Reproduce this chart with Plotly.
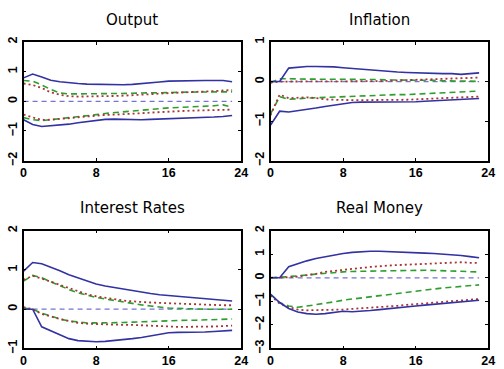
import plotly.graph_objects as go

periods = list(range(24))
panel_titles = ["Output", "Inflation", "Interest Rates", "Real Money"]
y_ranges = [[-2, 2], [-2, 1], [-1, 2], [-3, 2]]
x_ticks = [0, 8, 16, 24]

output_blue_up = [0.79,0.92,0.82,0.71,0.66,0.62,0.6,0.58,0.57,0.56,0.55,0.56,0.57,0.59,0.62,0.65,0.68,0.69,0.70,0.70,0.70,0.70,0.70,0.66]
output_green_up = [0.70,0.68,0.55,0.40,0.28,0.25,0.25,0.25,0.25,0.25,0.25,0.26,0.27,0.28,0.28,0.29,0.30,0.30,0.31,0.31,0.32,0.33,0.33,0.32]
output_red_up = [0.60,0.55,0.45,0.30,0.22,0.17,0.16,0.16,0.17,0.17,0.18,0.19,0.20,0.22,0.24,0.26,0.28,0.29,0.31,0.32,0.33,0.35,0.37,0.38]
output_green_lo = [-0.55,-0.62,-0.65,-0.62,-0.58,-0.55,-0.52,-0.48,-0.45,-0.41,-0.38,-0.35,-0.32,-0.30,-0.27,-0.24,-0.22,-0.21,-0.20,-0.19,-0.18,-0.15,-0.12,-0.20]
output_red_lo = [-0.45,-0.55,-0.63,-0.62,-0.60,-0.57,-0.54,-0.51,-0.48,-0.46,-0.45,-0.44,-0.42,-0.40,-0.38,-0.36,-0.35,-0.34,-0.32,-0.31,-0.30,-0.29,-0.28,-0.28]
output_blue_lo = [-0.62,-0.78,-0.85,-0.83,-0.80,-0.77,-0.72,-0.68,-0.64,-0.61,-0.60,-0.61,-0.62,-0.62,-0.61,-0.60,-0.60,-0.58,-0.57,-0.56,-0.55,-0.53,-0.51,-0.48]

infl_blue_up = [0.0,0.0,0.34,0.36,0.38,0.38,0.38,0.37,0.35,0.33,0.31,0.29,0.27,0.26,0.24,0.23,0.22,0.21,0.21,0.20,0.20,0.18,0.20,0.22]
infl_green_up = [-0.03,0.07,0.07,0.06,0.06,0.06,0.06,0.05,0.05,0.05,0.05,0.05,0.05,0.04,0.04,0.04,0.03,0.03,0.03,0.02,0.02,0.01,0.01,0.0]
infl_red_up = [-0.03,0.0,0.0,0.0,0.0,0.0,0.0,0.0,0.0,0.01,0.01,0.01,0.01,0.02,0.03,0.04,0.04,0.05,0.06,0.07,0.08,0.09,0.10,0.10]
infl_green_lo = [-0.82,-0.38,-0.45,-0.43,-0.42,-0.41,-0.40,-0.39,-0.38,-0.37,-0.36,-0.35,-0.35,-0.34,-0.33,-0.33,-0.32,-0.31,-0.30,-0.29,-0.28,-0.27,-0.26,-0.24]
infl_red_lo = [-0.85,-0.33,-0.42,-0.41,-0.40,-0.42,-0.45,-0.46,-0.47,-0.47,-0.47,-0.47,-0.47,-0.47,-0.46,-0.46,-0.45,-0.44,-0.43,-0.41,-0.40,-0.39,-0.38,-0.38]
infl_blue_lo = [-1.10,-0.75,-0.77,-0.74,-0.70,-0.67,-0.63,-0.60,-0.57,-0.53,-0.52,-0.52,-0.52,-0.52,-0.52,-0.52,-0.51,-0.50,-0.49,-0.48,-0.47,-0.46,-0.44,-0.43]

rate_blue_up = [0.97,1.19,1.16,1.08,0.98,0.88,0.80,0.72,0.64,0.59,0.55,0.51,0.48,0.44,0.40,0.37,0.35,0.32,0.30,0.28,0.27,0.25,0.23,0.21]
rate_green_up = [0.72,0.86,0.80,0.70,0.58,0.50,0.42,0.36,0.30,0.26,0.22,0.18,0.15,0.11,0.08,0.05,0.03,0.02,0.01,0.0,0.0,0.0,0.0,0.0]
rate_red_up = [0.75,0.85,0.78,0.70,0.60,0.52,0.45,0.38,0.33,0.29,0.25,0.22,0.20,0.18,0.17,0.16,0.15,0.14,0.13,0.13,0.12,0.11,0.10,0.10]
rate_green_lo = [0.03,0.0,-0.10,-0.18,-0.25,-0.30,-0.33,-0.35,-0.35,-0.35,-0.34,-0.34,-0.33,-0.32,-0.31,-0.31,-0.30,-0.29,-0.28,-0.28,-0.27,-0.26,-0.25,-0.25]
rate_red_lo = [0.05,0.0,-0.12,-0.19,-0.25,-0.30,-0.35,-0.37,-0.38,-0.39,-0.39,-0.40,-0.40,-0.41,-0.43,-0.44,-0.45,-0.45,-0.45,-0.45,-0.45,-0.44,-0.43,-0.42]
rate_blue_lo = [0.0,0.0,-0.45,-0.55,-0.65,-0.75,-0.80,-0.82,-0.83,-0.82,-0.80,-0.78,-0.75,-0.72,-0.68,-0.64,-0.60,-0.59,-0.59,-0.58,-0.58,-0.57,-0.55,-0.54]

money_blue_up = [0.0,0.0,0.47,0.60,0.72,0.82,0.90,0.97,1.03,1.08,1.12,1.13,1.13,1.12,1.10,1.09,1.07,1.05,1.03,1.01,0.98,0.95,0.90,0.85]
money_green_up = [0.0,0.02,0.05,0.08,0.12,0.16,0.20,0.23,0.25,0.27,0.28,0.29,0.30,0.31,0.31,0.32,0.32,0.32,0.31,0.31,0.30,0.28,0.26,0.25]
money_red_up = [0.0,0.0,0.02,0.05,0.10,0.17,0.25,0.30,0.35,0.38,0.42,0.46,0.50,0.52,0.54,0.56,0.58,0.60,0.62,0.63,0.65,0.66,0.64,0.63]
money_green_lo = [-0.70,-1.05,-1.20,-1.25,-1.20,-1.15,-1.10,-1.02,-0.95,-0.90,-0.85,-0.80,-0.75,-0.70,-0.65,-0.60,-0.55,-0.51,-0.47,-0.43,-0.40,-0.37,-0.33,-0.30]
money_red_lo = [-0.75,-1.10,-1.25,-1.35,-1.38,-1.38,-1.38,-1.37,-1.35,-1.32,-1.30,-1.28,-1.25,-1.22,-1.19,-1.15,-1.12,-1.09,-1.06,-1.03,-1.00,-0.97,-0.93,-0.90]
money_blue_lo = [-0.70,-1.05,-1.30,-1.45,-1.52,-1.55,-1.52,-1.47,-1.42,-1.44,-1.43,-1.39,-1.35,-1.32,-1.28,-1.24,-1.20,-1.16,-1.12,-1.08,-1.05,-1.01,-0.98,-0.95]

zero_line = [0.0] * 24

panels = [
    dict(blue=[output_blue_up, output_blue_lo], green=[output_green_up, output_green_lo], red=[output_red_up, output_red_lo]),
    dict(blue=[infl_blue_up, infl_blue_lo], green=[infl_green_up, infl_green_lo], red=[infl_red_up, infl_red_lo]),
    dict(blue=[rate_blue_up, rate_blue_lo], green=[rate_green_up, rate_green_lo], red=[rate_red_up, rate_red_lo]),
    dict(blue=[money_blue_up, money_blue_lo], green=[money_green_up, money_green_lo], red=[money_red_up, money_red_lo]),
]

W, H = 504, 369
x_doms = [[21 / W, 243 / W], [273 / W, 495 / W]]
y_doms = [[1 - 160 / H, 1 - 38 / H], [1 - 353 / H, 1 - 232 / H]]

BLUE = "#3232a2"
GREEN = "#2e9e2e"
RED = "#a83434"
ZERO = "#7474d4"

fig = go.Figure()
layout = dict(
    width=W, height=H, margin=dict(l=0, r=0, t=0, b=0),
    paper_bgcolor="white", plot_bgcolor="white", showlegend=False,
)
annotations = []
tick_font = dict(family="Liberation Sans", size=12.5, color="black", weight="bold")

for i, p in enumerate(panels):
    r, c = divmod(i, 2)
    sfx = "" if i == 0 else str(i + 1)
    xa, ya = "x" + sfx, "y" + sfx
    fig.add_trace(go.Scatter(x=periods, y=zero_line, mode="lines", xaxis=xa, yaxis=ya,
                             line=dict(color=ZERO, width=1.3, dash="5px,4px")))
    for s in p["green"]:
        fig.add_trace(go.Scatter(x=periods, y=s, mode="lines", xaxis=xa, yaxis=ya,
                                 line=dict(color=GREEN, width=1.6, dash="6px,4px")))
    for s in p["red"]:
        fig.add_trace(go.Scatter(x=periods, y=s, mode="lines", xaxis=xa, yaxis=ya,
                                 line=dict(color=RED, width=1.8, dash="2px,3px")))
    for s in p["blue"]:
        fig.add_trace(go.Scatter(x=periods, y=s, mode="lines", xaxis=xa, yaxis=ya,
                                 line=dict(color=BLUE, width=1.6)))
    yr = y_ranges[i]
    layout["xaxis" + sfx] = dict(
        domain=x_doms[c], anchor=ya, range=[0, 24], tickvals=x_ticks,
        ticktext=[str(t) for t in x_ticks], showgrid=False, zeroline=False,
        showline=True, linecolor="black", linewidth=1.5, mirror="ticks",
        ticks="inside", ticklen=3, tickcolor="black", tickfont=tick_font,
    )
    layout["yaxis" + sfx] = dict(
        domain=y_doms[r], anchor=xa, range=yr, tickvals=list(range(yr[0], yr[1] + 1)),
        showgrid=False, zeroline=False, showline=True, linecolor="black",
        linewidth=1.5, mirror="ticks", ticks="inside", ticklen=3, tickcolor="black",
        tickangle=-90, tickfont=tick_font,
    )
    annotations.append(dict(
        text=panel_titles[i], xref="paper", yref="paper",
        x=(x_doms[c][0] + x_doms[c][1]) / 2, y=y_doms[r][1] + 23 / H,
        xanchor="center", yanchor="middle", showarrow=False,
        font=dict(family="DejaVu Sans", size=15, color="black"),
    ))

layout["annotations"] = annotations
fig.update_layout(**layout)
fig.write_html(
    "out.html",
    config={"displayModeBar": False},
    post_script="document.body.style.margin='0';document.body.style.overflow='hidden';",
)
